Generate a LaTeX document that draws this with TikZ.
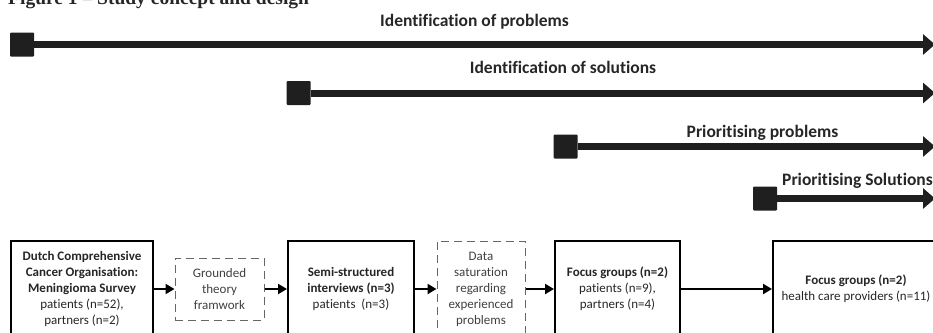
\documentclass[tikz,border=0pt]{standalone}
\usepackage{fontspec}
\setmainfont{Carlito}[Ligatures=NoCommon]
\newfontfamily\titlefont{Liberation Serif}
\usepackage{xcolor}
\usepackage{tikz}
\usetikzlibrary{arrows.meta, positioning}

\begin{document}
\begin{tikzpicture}[x=1pt, y=-1pt,
    startsq/.style={rectangle, fill=black!88, minimum size=24pt, inner sep=0pt, rounded corners=1pt},
    phase/.style={line width=7pt, draw=black!88, -{Triangle[length=12pt,width=20pt]}},
    phaselabel/.style={anchor=base, font=\fontsize{17.5}{21}\selectfont\bfseries, text=black!85},
    stage/.style={rectangle, draw, line width=2pt, minimum height=96pt, align=center, inner sep=2pt,
        font=\fontsize{13}{16}\selectfont, text=black!85},
    note/.style={rectangle, draw=black!60, dash pattern=on 8pt off 5pt, line width=1pt, align=center,
        inner sep=2pt, font=\fontsize{13}{16}\selectfont, text=black!75},
    flow/.style={line width=2.5pt, -{Triangle[length=9pt,width=10pt]}}
]
\useasboundingbox (0,0) rectangle (933,332);
\clip (0,0) rectangle (933,332);

% Title (cut off at the top)
\node[anchor=base west, inner sep=0pt, font=\titlefont\fontsize{19.5}{23}\selectfont\bfseries, text=black!85]
    (title) at (8,5) {Figure 1 – Study concept and design};

% Phases
\node[startsq] (s1) at (22,44.5) {};
\node[startsq] (s2) at (298.5,93) {};
\node[startsq] (s3) at (565.5,146.5) {};
\node[startsq] (s4) at (765,198.5) {};

\coordinate (e1) at (935,44.5);
\coordinate (e2) at (935,93);
\coordinate (e3) at (935,146.5);
\coordinate (e4) at (935,198.5);

\draw[phase] (s1) -- (e1);
\draw[phase] (s2) -- (e2);
\draw[phase] (s3) -- (e3);
\draw[phase] (s4) -- (e4);

\node[phaselabel] (l1) at (474.5,27) {Identification of problems};
\node[phaselabel] (l2) at (563,73) {Identification of solutions};
\node[phaselabel] (l3) at (762.5,137) {Prioritising problems};
\node[phaselabel, anchor=base west, inner sep=0pt] (l4) at (782,185) {Prioritising Solutions};

% Stages
\node[stage, minimum width=142pt] (survey) at (82,289)
    {\textbf{Dutch Comprehensive}\\\textbf{Cancer Organisation:}\\\textbf{Meningioma Survey}\\patients (n=52),\\partners (n=2)};
\node[note, minimum width=89pt, minimum height=62pt] (theory) at (219.5,289)
    {Grounded\\theory\\framwork};
\node[stage, minimum width=126pt] (interviews) at (351,289)
    {\textbf{Semi-structured}\\\textbf{interviews (n=3)}\\patients~ (n=3)};
\node[note, minimum width=88pt, minimum height=96pt] (saturation) at (481,289)
    {Data\\saturation\\regarding\\experienced\\problems};
\node[stage, minimum width=125pt] (fgpatients) at (617.5,289)
    {\textbf{Focus groups (n=2)}\\patients (n=9),\\partners (n=4)};
\node[stage, minimum width=166pt] (fgproviders) at (856,289)
    {\textbf{Focus groups (n=2)}\\health care providers (n=11)};

% Flow
\draw[flow] (survey) -- (theory);
\draw[flow] (theory) -- (interviews);
\draw[flow] (interviews) -- (saturation);
\draw[flow] (saturation) -- (fgpatients);
\draw[flow] (fgpatients) -- (fgproviders);

\end{tikzpicture}
\end{document}
